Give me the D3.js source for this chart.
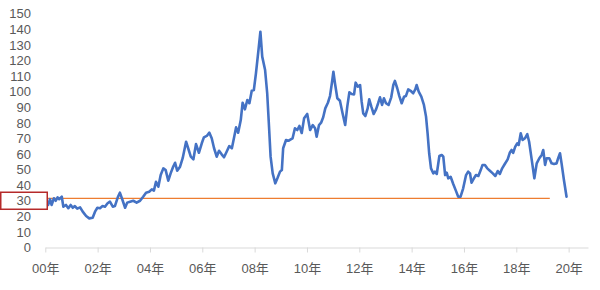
<!DOCTYPE html>
<html>
<head>
<meta charset="utf-8">
<script src="https://cdn.jsdelivr.net/npm/d3@7"></script>
<style>
  body { margin: 0; background: #fff; }
  svg text { font-family: "Liberation Sans", "Noto Sans CJK SC", sans-serif; fill: #595959; }
</style>
</head>
<body>
<div id="chart"></div>
<script>
// time in years since 2000
const times = [
  0.11, 0.18, 0.24, 0.33, 0.40, 0.47, 0.53, 0.63, 0.69, 0.79, 0.88, 0.97,
  1.05, 1.13, 1.22, 1.33, 1.43, 1.56, 1.68, 1.81, 1.90, 1.99,
  2.09, 2.19, 2.28, 2.38, 2.47, 2.58, 2.66, 2.77, 2.85, 2.94,
  3.05, 3.13, 3.24, 3.36, 3.49, 3.62, 3.74, 3.85, 3.97,
  4.07, 4.15, 4.23, 4.32, 4.41, 4.51, 4.60, 4.70, 4.79, 4.89, 4.96,
  5.04, 5.15, 5.25, 5.38, 5.46, 5.56, 5.66, 5.76, 5.87, 5.98,
  6.06, 6.17, 6.27, 6.36, 6.45, 6.55, 6.64, 6.74, 6.83, 6.93,
  7.03, 7.13, 7.22, 7.29, 7.37, 7.47, 7.54, 7.63, 7.72, 7.80, 7.89, 7.97,
  8.05, 8.14, 8.22, 8.29, 8.40, 8.48, 8.55, 8.61, 8.69, 8.79, 8.87, 8.97,
  9.04, 9.09, 9.20, 9.29, 9.38, 9.45, 9.54, 9.63, 9.71, 9.80, 9.89,
  10.01, 10.12, 10.22, 10.31, 10.37, 10.46, 10.54, 10.62, 10.70, 10.80, 10.88, 10.96,
  11.01, 11.07, 11.16, 11.26, 11.36, 11.46, 11.54, 11.62, 11.71, 11.80, 11.86, 11.94,
  12.03, 12.09, 12.15, 12.23, 12.32, 12.38, 12.46, 12.55, 12.64, 12.72, 12.79, 12.87, 12.94,
  13.02, 13.12, 13.22, 13.30, 13.36, 13.45, 13.53, 13.62, 13.71, 13.78, 13.87, 13.96,
  14.06, 14.14, 14.19, 14.27, 14.37, 14.47, 14.55, 14.61, 14.67, 14.74, 14.83, 14.89, 14.96,
  15.06, 15.15, 15.21, 15.28, 15.34, 15.40, 15.49, 15.59, 15.69, 15.78, 15.87, 15.97,
  16.08, 16.16, 16.23, 16.29, 16.38, 16.46, 16.55, 16.64, 16.71, 16.80, 16.89, 16.99,
  17.10, 17.20, 17.29, 17.37, 17.46, 17.56, 17.67, 17.75, 17.82, 17.88, 17.96,
  18.04, 18.09, 18.17, 18.24, 18.33, 18.42, 18.49, 18.59, 18.69, 18.78, 18.88, 18.97,
  19.03, 19.10, 19.16, 19.26, 19.35, 19.44, 19.54, 19.60, 19.67, 19.73, 19.82, 19.92
];
const prices = [
  27.3, 31, 27.3, 31.6, 30, 32.2, 31, 32.6, 26.2, 27.3, 25.2, 27.3,
  25.5, 26.6, 24.9, 25.8, 23, 20.2, 18.7, 19.1, 23, 25.5,
  25.2, 26.6, 26.2, 28.4, 29.4, 26.2, 26.6, 32.2, 35.2, 31,
  25.5, 28.8, 29.4, 30, 28.8, 30, 32.6, 35.2, 35.8,
  37.3, 36.5, 42.2, 39, 46.5, 50.8, 49.7, 42.9, 47.6, 52, 54.4,
  49.3, 51.9, 57.3, 67.9, 63.7, 58.3, 56.6, 66.4, 60.8, 66.9,
  70.7, 71.6, 73.7, 70.1, 63.7, 58.3, 62.1, 59.8, 57.9, 61.5,
  65.1, 63.7, 71.1, 77.1, 73.7, 81.8, 92.9, 88.7, 94.7, 92.6, 100.6, 101.1,
  111.8, 125.7, 138.5, 122.5, 113.9, 99, 77.5, 58.3, 47.6, 41.2, 44.4, 48.7,
  49.7, 63.7, 69, 68.5, 69.4, 70.1, 76.5, 75.4, 78, 73.5, 82.9,
  85.7, 75.4, 78.6, 76.5, 71.1, 78.6, 80.1, 83.6, 89.3, 92.9, 97.2, 106.4,
  112.8, 105.4, 95.8, 94.2, 86.1, 78.6, 90.4, 99.6, 98.5, 98.3, 105.8, 103.2,
  104.3, 93.6, 86.1, 84.4, 89.3, 95.1, 90.4, 85.7, 88.7, 92.6, 96.4, 91.5, 95.8,
  92.6, 91.5, 96.4, 104.3, 106.9, 102.2, 97.2, 92.6, 96.8, 97.2, 101.5, 100.6,
  99, 101.5, 104.3, 100, 96.8, 91.5, 84, 73.3, 60.5, 50.8, 47.6, 48.7, 47.2,
  58.7, 59.4, 58.3, 46.5, 48, 44.4, 45.4, 40.8, 36.5, 32.6, 32.6, 38,
  46.5, 48.7, 47.6, 41.6, 44.4, 46.5, 45.9, 49.7, 53, 53, 50.8, 49.3,
  47.6, 45.9, 49.1, 47.2, 50.8, 53.6, 56.6, 60.8, 62.6, 60.8, 64.7,
  66.9, 65.8, 73.3, 69, 70.1, 72.7, 67.9, 56.2, 44.4, 54, 57.3, 59.4,
  62.6, 53, 57.3, 57.3, 54, 53.6, 54, 57.3, 60.5, 54, 43.3, 32.6
];
const yTicks = d3.range(0, 151, 10);
const xTicks = [0, 2, 4, 6, 8, 10, 12, 14, 16, 18, 20];
const refValue = 31.5;
const refSpan = [0.07, 19.28];
const boxedTick = 30;

const width = 600, height = 290;
const svg = d3.select("#chart").append("svg").attr("width", width).attr("height", height);

const x = d3.scaleLinear().domain([0, 20.74]).range([45.3, 588]);
const y = d3.scaleLinear().domain([0, 150]).range([247.5, 13.8]);

const data = times.map((t, i) => ({ t, v: prices[i] }));

// x axis
const xAxis = svg.append("g")
  .attr("transform", `translate(0,${y(0)})`)
  .call(d3.axisBottom(x).tickValues(xTicks).tickSize(5).tickSizeOuter(0).tickPadding(11)
    .tickFormat(d => String(d).padStart(2, "0") + "年"));
xAxis.select(".domain").attr("stroke", "#d9d9d9");
xAxis.selectAll(".tick line").attr("stroke", "#d9d9d9");
xAxis.selectAll("text").style("font-size", "13px").attr("fill", "#595959");

// y axis, labels only
const yAxis = svg.append("g")
  .attr("transform", "translate(31,0)")
  .call(d3.axisLeft(y).tickValues(yTicks).tickSize(0).tickPadding(0));
yAxis.select(".domain").remove();
yAxis.selectAll("text").style("font-size", "13px").attr("fill", "#595959");

// reference line
svg.append("line")
  .attr("x1", x(refSpan[0])).attr("x2", x(refSpan[1]))
  .attr("y1", y(refValue)).attr("y2", y(refValue))
  .attr("stroke", "#ed7d31").attr("stroke-width", 1.2);

// price line
svg.append("path")
  .datum(data)
  .attr("fill", "none")
  .attr("stroke", "#4472c4")
  .attr("stroke-width", 2.6)
  .attr("stroke-linejoin", "round")
  .attr("stroke-linecap", "round")
  .attr("d", d3.line().x(d => x(d.t)).y(d => y(d.v)));

// red box around the 30 label
svg.append("rect")
  .attr("x", 0.75).attr("y", y(boxedTick) - 8.5)
  .attr("width", 46.5).attr("height", 17)
  .attr("fill", "none")
  .attr("stroke", "#b52a2a")
  .attr("stroke-width", 1.5);
</script>
</body>
</html>
